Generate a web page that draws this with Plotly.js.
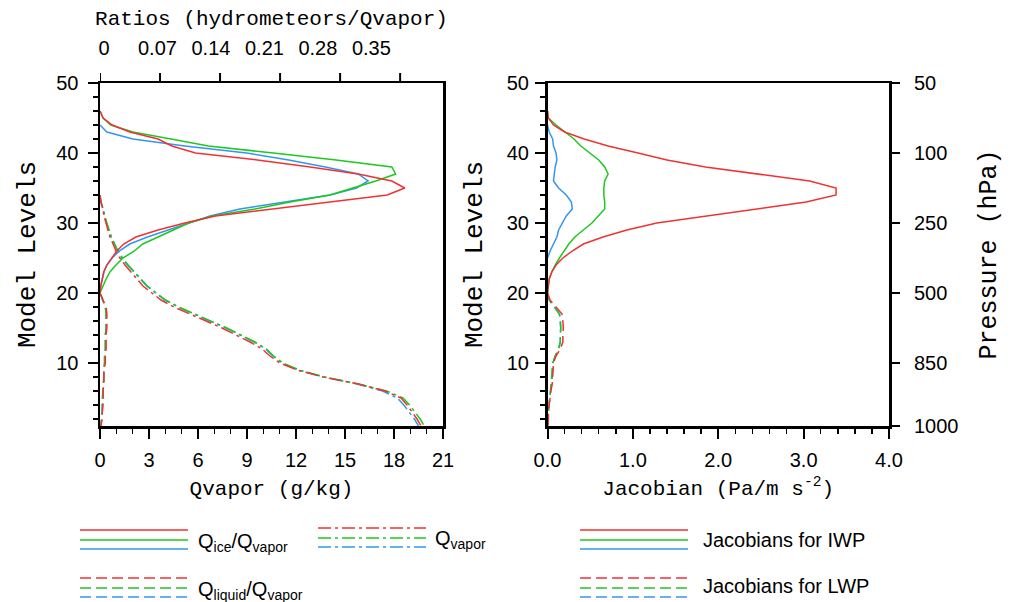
<!DOCTYPE html>
<html>
<head>
<meta charset="utf-8">
<script src="https://cdn.plot.ly/plotly-3.0.1.min.js"></script>
<style>html,body{margin:0;padding:0;background:#fff;}#chart{width:1015px;height:602px;}</style>
</head>
<body>
<div id="chart"></div>
<script>
// ---------------- data ----------------
const levelsIce = [46,45,44,43,42,41,40,39,38,37,36,35,34,33,32,31,30,29,28,27,26,25,24,23,22,21,20];
const levelsIceBlue = [44,43,42,41,40,39,38,37,36,35,34,33,32,31,30,29,28,27,26,25,24,23,22,21,20];
const ratioIceRed   = [0,.004,.016,.039,.076,.094,.125,.206,.275,.338,.382,.399,.376,.301,.223,.151,.111,.076,.047,.031,.022,.016,.009,.005,.003,.001,0];
const ratioIceGreen = [0,.004,.014,.043,.093,.142,.227,.309,.382,.387,.361,.330,.301,.249,.203,.147,.116,.096,.076,.056,.045,.030,.021,.013,.008,.004,0];
const ratioIceBlue  = [0,.009,.043,.111,.192,.247,.295,.338,.351,.336,.301,.242,.183,.144,.116,.089,.062,.039,.025,.016,.009,.005,.003,.001,0];

const levelsLow = [20,19,18,17,16,15,14,13,12,11,10,9,8,7,6,5,4,3,2,1];
const ratioLiqRed   = [0,.004,.008,.009,.009,.009,.008,.008,.008,.007,.007,.005,.005,.005,.004,.004,.004,.003,.003,.001];
const ratioLiqGreen = [0,.003,.007,.008,.008,.008,.007,.007,.007,.006,.006,.005,.005,.004,.004,.003,.003,.003,.002,.001];
const ratioLiqBlue  = [0,.003,.007,.008,.008,.008,.007,.007,.007,.006,.006,.005,.005,.005,.004,.004,.003,.003,.002,.001];

const levelsVapor = [34,33,32,31,30,29,28,27,26,25,24,23,22,21,20,19,18,17,16,15,14,13,12,11,10,9,8,7,6,5,4,3,2,1];
const qvaporRed   = [0,.06,.18,.24,.37,.49,.61,.80,.98,1.22,1.53,1.90,2.27,2.63,3.18,3.74,4.53,5.51,6.55,7.47,8.33,9.19,9.92,10.41,11.02,12.06,13.66,15.80,17.45,18.43,18.80,19.11,19.41,19.66];
const qvaporGreen = [0,.06,.20,.28,.42,.56,.70,.90,1.10,1.38,1.72,2.12,2.52,2.90,3.45,4.02,4.82,5.80,6.84,7.76,8.62,9.48,10.20,10.62,11.20,12.20,13.75,15.85,17.55,18.55,18.95,19.30,19.60,19.85];
const qvaporBlue  = [0,.05,.18,.27,.40,.54,.68,.88,1.08,1.35,1.68,2.08,2.48,2.86,3.40,3.98,4.78,5.76,6.80,7.72,8.58,9.44,10.15,10.58,11.15,12.12,13.70,15.75,17.30,18.20,18.60,18.95,19.25,19.50];

const levelsJacBlue = [44,43,42,41,40,39,38,37,36,35,34,33,32,31,30,29,28,27,26,25];
const jacIwpRed   = [0,.01,.07,.20,.43,.71,1.06,1.40,1.85,2.49,3.07,3.38,3.38,3.03,2.43,1.84,1.28,.93,.65,.42,.29,.18,.10,.05,.02,.01,0];
const jacIwpGreen = [0,.01,.10,.20,.31,.39,.49,.60,.67,.71,.67,.66,.66,.67,.67,.60,.52,.42,.32,.25,.19,.14,.09,.05,.02,.01,0];
const jacIwpBlue  = [0,.02,.06,.07,.10,.11,.09,.08,.07,.13,.22,.28,.29,.22,.17,.13,.11,.07,.03,0];
const jacLwpRed   = [0,.03,.10,.17,.18,.185,.18,.18,.15,.10,.07,.065,.06,.055,.04,.03,.015,.01,.01,.005];
const jacLwpGreen = [0,.02,.08,.14,.15,.155,.15,.15,.13,.09,.06,.055,.05,.045,.035,.025,.015,.01,.005,.003];
const jacLwpBlue  = [0,.02,.08,.14,.15,.155,.15,.15,.13,.09,.065,.06,.055,.05,.035,.025,.015,.01,.005,.003];

const qvaporTicks = [0,3,6,9,12,15,18,21];
const ratioTicks = [0,0.07,0.14,0.21,0.28,0.35];
const ratioTickText = ['0','0.07','0.14','0.21','0.28','0.35'];
const jacTicks = [0,1,2,3,4];
const jacTickText = ['0.0','1.0','2.0','3.0','4.0'];
const levelTicks = [10,20,30,40,50];
const pressureLevels = [1,10,20,30,40,50];
const pressureText = ['1000','850','500','250','100','50'];

// ---------------- styling ----------------
const W = 1015, H = 602;
const RED = '#f03232', GREEN = '#1ec81e', BLUE = '#3296f0';
const MONO = 'Liberation Mono, DejaVu Sans Mono, monospace';
const SANS = 'Liberation Sans, Arial, sans-serif';
const px = v => v / W, py = v => 1 - v / H;
const LW = 1.5;
const DASH = '11px,5px';
const DASHDOT = '13px,4px,3px,4px';

function tr(x, y, color, dash, xa, ya, hidden) {
  return {type:'scatter', mode:'lines', x:x, y:y, xaxis:xa, yaxis:ya,
          opacity: hidden ? 0 : 1,
          line:{color:color, width:LW, dash:dash}, hoverinfo:'skip'};
}

const traces = [
  // invisible carrier that registers the top tick-mark scale
  tr(ratioIceRed, levelsIce, RED, 'solid', 'x3', 'y', true),
  // left panel
  tr(qvaporBlue, levelsVapor, BLUE, DASHDOT, 'x', 'y'),
  tr(qvaporGreen, levelsVapor, GREEN, DASHDOT, 'x', 'y'),
  tr(qvaporRed, levelsVapor, RED, DASHDOT, 'x', 'y'),
  tr(ratioIceBlue, levelsIceBlue, BLUE, 'solid', 'x4', 'y'),
  tr(ratioIceGreen, levelsIce, GREEN, 'solid', 'x4', 'y'),
  tr(ratioIceRed, levelsIce, RED, 'solid', 'x4', 'y'),
  tr(ratioLiqBlue, levelsLow, BLUE, DASH, 'x4', 'y'),
  tr(ratioLiqGreen, levelsLow, GREEN, DASH, 'x4', 'y'),
  tr(ratioLiqRed, levelsLow, RED, DASH, 'x4', 'y'),
  // right panel
  tr(jacIwpBlue, levelsJacBlue, BLUE, 'solid', 'x2', 'y2'),
  tr(jacIwpGreen, levelsIce, GREEN, 'solid', 'x2', 'y2'),
  tr(jacIwpRed, levelsIce, RED, 'solid', 'x2', 'y2'),
  tr(jacLwpBlue, levelsLow, BLUE, DASH, 'x2', 'y2'),
  tr(jacLwpGreen, levelsLow, GREEN, DASH, 'x2', 'y2'),
  tr(jacLwpRed, levelsLow, RED, DASH, 'x2', 'y2'),
  // invisible carrier so the pressure axis is drawn
  tr(jacIwpRed, levelsIce, RED, 'solid', 'x2', 'y3', true)
];

const tickFont = {family:SANS, size:20, color:'#000'};
const titleFont = {family:MONO, size:21, color:'#000'};
const common = {showgrid:false, zeroline:false, ticks:'outside', ticklen:10, tickwidth:2,
                tickcolor:'#000', tickfont:tickFont, fixedrange:true};
const yDom = [py(426), py(83)];
const xDomL = [px(100), px(443)];
const xDomR = [px(547.5), px(889)];

const layout = {
  width:W, height:H, margin:{l:0, r:0, t:0, b:0},
  paper_bgcolor:'#fff', plot_bgcolor:'#fff', showlegend:false,
  xaxis: Object.assign({}, common, {
    domain:xDomL, anchor:'y', range:[0,21], tickvals:qvaporTicks,
    showline:true, linewidth:2.5, linecolor:'#000', mirror:true,
    minor:{ticks:'outside', dtick:1, ticklen:5, tickwidth:1.5, tickcolor:'#000'},
    ticklabelstandoff:4,
    title:{text:'Qvapor (g/kg)', font:titleFont, standoff:11}
  }),
  xaxis3: Object.assign({}, common, {
    overlaying:'x', side:'top', anchor:'y', range:[0,0.40],
    tickvals:ratioTicks, ticks:'', showticklabels:false, showline:false
  }),
  xaxis4: Object.assign({}, common, {
    overlaying:'x', side:'top', anchor:'y', range:[0,0.449], tickvals:ratioTicks,
    ticktext:ratioTickText, ticks:'', showline:false, ticklabelstandoff:23, ticklabelshift:4,
    title:{text:'Ratios (hydrometeors/Qvapor)', font:titleFont, standoff:5}
  }),
  yaxis: Object.assign({}, common, {
    domain:yDom, anchor:'x', range:[1,50], tickvals:levelTicks,
    showline:true, linewidth:2.5, linecolor:'#000', mirror:true,
    minor:{ticks:'outside', tick0:0, dtick:2, ticklen:5, tickwidth:1.5, tickcolor:'#000'},
    ticklabelstandoff:5,
    title:{text:'Model Levels', font:{family:MONO, size:26, color:'#000'}, standoff:13}
  }),
  xaxis2: Object.assign({}, common, {
    domain:xDomR, anchor:'y2', range:[0,4], tickvals:jacTicks, ticktext:jacTickText,
    showline:true, linewidth:2.5, linecolor:'#000', mirror:true,
    minor:{ticks:'outside', dtick:0.2, ticklen:5, tickwidth:1.5, tickcolor:'#000'},
    ticklabelstandoff:4,
    title:{text:'Jacobian (Pa/m s<sup>-2</sup>)', font:titleFont, standoff:11}
  }),
  yaxis2: Object.assign({}, common, {
    domain:yDom, anchor:'x2', range:[1,50], tickvals:levelTicks,
    showline:true, linewidth:2.5, linecolor:'#000', mirror:true,
    minor:{ticks:'outside', tick0:0, dtick:2, ticklen:5, tickwidth:1.5, tickcolor:'#000'},
    ticklabelstandoff:2,
    title:{text:'Model Levels', font:{family:MONO, size:26, color:'#000'}, standoff:17}
  }),
  yaxis3: Object.assign({}, common, {
    overlaying:'y2', side:'right', anchor:'x2', range:[1,50],
    tickvals:pressureLevels, ticktext:pressureText, showline:false,
    ticklabelstandoff:10,
    title:{text:'Pressure (hPa)', font:{family:MONO, size:25, color:'#000'}, standoff:20}
  }),
  shapes:[], annotations:[]
};

// top tick marks of the ratio scale, placed through the x3 axis scale
ratioTicks.forEach(v => layout.shapes.push({type:'line', xref:'x3', yref:'paper',
  x0:v, x1:v, y0:py(83), y1:py(73), line:{color:'#000', width:2}}));

// legend (drawn as paper-space decoration)
function legLine(x0, x1, y, color, dash) {
  layout.shapes.push({type:'line', xref:'paper', yref:'paper', x0:px(x0), x1:px(x1),
    y0:py(y), y1:py(y), line:{color:color, width:LW, dash:dash}});
}
function legText(x, y, text) {
  layout.annotations.push({xref:'paper', yref:'paper', x:px(x), y:py(y), xanchor:'left',
    yanchor:'middle', text:text, showarrow:false, font:{family:SANS, size:20, color:'#000'}});
}
[[530,RED],[540,GREEN],[549,BLUE]].forEach(([y,c]) => legLine(80,188,y,c,'solid'));
[[528,RED],[538,GREEN],[547,BLUE]].forEach(([y,c]) => legLine(318,426,y,c,DASHDOT));
[[578,RED],[588,GREEN],[597,BLUE]].forEach(([y,c]) => legLine(80,188,y,c,DASH));
[[530,RED],[540,GREEN],[549,BLUE]].forEach(([y,c]) => legLine(580,688,y,c,'solid'));
[[578,RED],[588,GREEN],[597,BLUE]].forEach(([y,c]) => legLine(580,688,y,c,DASH));
legText(196, 542, 'Q<sub>ice</sub>/Q<sub>vapor</sub>');
legText(433, 539, 'Q<sub>vapor</sub>');
legText(196, 590, 'Q<sub>liquid</sub>/Q<sub>vapor</sub>');
legText(701, 540, 'Jacobians for IWP');
legText(701, 586, 'Jacobians for LWP');

Plotly.newPlot('chart', traces, layout, {displayModeBar:false, staticPlot:true});
</script>
</body>
</html>
